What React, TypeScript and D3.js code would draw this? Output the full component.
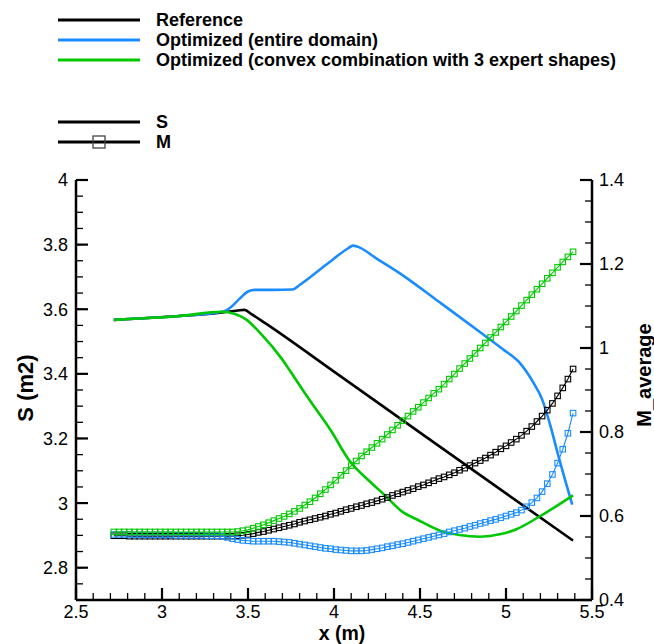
import React from "react";
import * as d3 from "d3";

// ---------- data ----------
const seriesNames = ["Reference", "Optimized (entire domain)", "Optimized (convex combination with 3 expert shapes)"];
const seriesColors = ["#000000", "#1a8cff", "#00c800"];

const xTicks = [2.5, 3, 3.5, 4, 4.5, 5, 5.5];
const sTicks = [2.8, 3, 3.2, 3.4, 3.6, 3.8, 4];
const mTicks = [0.4, 0.6, 0.8, 1, 1.2, 1.4];

// S (m2) — lines without markers
const sRefX = [2.72, 3.1, 3.35, 3.44, 3.48, 3.52, 3.6, 4.0, 4.5, 5.0, 5.39];
const sRefY = [3.567, 3.579, 3.59, 3.596, 3.598, 3.585, 3.557, 3.407, 3.218, 3.03, 2.884];

const sEntireX = [2.72, 3.1, 3.35, 3.4, 3.45, 3.5, 3.54, 3.65, 3.76, 3.8, 3.95, 4.08, 4.11, 4.14, 4.25, 4.4, 4.6, 4.87, 4.98, 5.08, 5.16, 5.21, 5.26, 5.3, 5.34, 5.385];
const sEntireY = [3.567, 3.579, 3.592, 3.606, 3.632, 3.655, 3.66, 3.66, 3.661, 3.675, 3.736, 3.788, 3.797, 3.793, 3.756, 3.705, 3.627, 3.521, 3.477, 3.434, 3.372, 3.321, 3.236, 3.155, 3.078, 2.995];

const sConvexX = [2.72, 3.1, 3.35, 3.42, 3.49, 3.57, 3.7, 3.74, 3.85, 3.98, 4.09, 4.21, 4.29, 4.4, 4.48, 4.62, 4.73, 4.85, 4.97, 5.06, 5.2, 5.39];
const sConvexY = [3.567, 3.579, 3.592, 3.586, 3.568, 3.527, 3.444, 3.413, 3.325, 3.226, 3.131, 3.066, 3.027, 2.972, 2.95, 2.914, 2.901, 2.896, 2.904, 2.919, 2.96, 3.024];

// M_average — lines with square markers on the station grid
const xGrid = [
  2.72, 2.75, 2.78, 2.81, 2.84, 2.87, 2.9, 2.93, 2.96, 2.99,
  3.02, 3.05, 3.08, 3.11, 3.14, 3.17, 3.2, 3.23, 3.26, 3.29,
  3.32, 3.35, 3.38, 3.41, 3.44, 3.47, 3.5, 3.53, 3.56, 3.59,
  3.62, 3.65, 3.68, 3.71, 3.74, 3.77, 3.8, 3.83, 3.86, 3.89,
  3.92, 3.95, 3.98, 4.01, 4.04, 4.07, 4.1, 4.13, 4.16, 4.19,
  4.22, 4.25, 4.28, 4.31, 4.34, 4.37, 4.4, 4.43, 4.46, 4.49,
  4.52, 4.55, 4.58, 4.61, 4.64, 4.67, 4.7, 4.73, 4.76, 4.79,
  4.82, 4.85, 4.88, 4.91, 4.94, 4.97, 5.0, 5.03, 5.06, 5.09,
  5.12, 5.15, 5.18, 5.21, 5.24, 5.27, 5.3, 5.33, 5.36, 5.39,
];
const mRef = [
  0.553, 0.553, 0.553, 0.552, 0.552, 0.552, 0.552, 0.552, 0.552, 0.552,
  0.552, 0.552, 0.552, 0.552, 0.552, 0.552, 0.552, 0.552, 0.552, 0.552,
  0.552, 0.552, 0.552, 0.552, 0.553, 0.554, 0.556, 0.558, 0.561, 0.563,
  0.566, 0.569, 0.572, 0.575, 0.578, 0.581, 0.585, 0.588, 0.591, 0.594,
  0.597, 0.6, 0.604, 0.607, 0.611, 0.615, 0.618, 0.622, 0.625, 0.629,
  0.632, 0.636, 0.64, 0.644, 0.649, 0.653, 0.657, 0.661, 0.665, 0.67,
  0.674, 0.679, 0.684, 0.689, 0.693, 0.698, 0.703, 0.709, 0.714, 0.72,
  0.726, 0.732, 0.738, 0.745, 0.752, 0.76, 0.767, 0.775, 0.783, 0.792,
  0.802, 0.813, 0.825, 0.838, 0.852, 0.868, 0.886, 0.905, 0.926, 0.95,
];
const mEntire = [
  0.556, 0.556, 0.556, 0.556, 0.555, 0.555, 0.555, 0.555, 0.555, 0.555,
  0.555, 0.555, 0.554, 0.554, 0.554, 0.554, 0.554, 0.554, 0.553, 0.553,
  0.553, 0.552, 0.549, 0.546, 0.544, 0.542, 0.541, 0.54, 0.54, 0.54,
  0.54, 0.54, 0.539, 0.538, 0.537, 0.535, 0.533, 0.531, 0.529, 0.527,
  0.525, 0.523, 0.522, 0.52, 0.519, 0.518, 0.517, 0.517, 0.517, 0.518,
  0.52, 0.522, 0.524, 0.527, 0.529, 0.532, 0.534, 0.537, 0.54, 0.543,
  0.546, 0.549, 0.552, 0.555, 0.558, 0.562, 0.565, 0.568, 0.571, 0.575,
  0.578, 0.582, 0.585, 0.589, 0.592, 0.596, 0.6, 0.604, 0.608, 0.614,
  0.622, 0.632, 0.643, 0.658, 0.677, 0.699, 0.726, 0.759, 0.797, 0.845,
];
const mConvex = [
  0.562, 0.562, 0.562, 0.562, 0.562, 0.562, 0.562, 0.562, 0.562, 0.562,
  0.562, 0.562, 0.562, 0.562, 0.562, 0.562, 0.562, 0.562, 0.562, 0.562,
  0.562, 0.562, 0.562, 0.562, 0.563, 0.565, 0.567, 0.571, 0.575, 0.579,
  0.584, 0.589, 0.594, 0.599, 0.605, 0.611, 0.618, 0.626, 0.634, 0.643,
  0.653, 0.663, 0.674, 0.685, 0.697, 0.708, 0.72, 0.731, 0.743, 0.753,
  0.763, 0.773, 0.783, 0.794, 0.805, 0.816, 0.827, 0.838, 0.849, 0.859,
  0.87, 0.881, 0.892, 0.902, 0.914, 0.926, 0.938, 0.951, 0.963, 0.975,
  0.987, 1.0, 1.012, 1.025, 1.037, 1.05, 1.062, 1.075, 1.088, 1.101,
  1.114, 1.127, 1.14, 1.153, 1.166, 1.179, 1.192, 1.205, 1.217, 1.229,
];

// ---------- chart ----------
const W = 654;
const H = 644;
const FONT = "'Liberation Sans', Arial, Helvetica, sans-serif";

const x = d3.scaleLinear().domain([2.5, 5.5]).range([76, 592]);
const yS = d3.scaleLinear().domain([2.7, 4]).range([600, 180]);
const yM = d3.scaleLinear().domain([0.4, 1.4]).range([600, 180]);

const fmt = (v: number) => String(+v.toFixed(2));

export default function App() {
  const sLine = (xs: number[], ys: number[]) =>
    d3.line<number>().x((_, i) => x(xs[i])).y((d) => yS(d)).curve(d3.curveMonotoneX)(ys) || "";
  const mLine = (ys: number[]) =>
    d3.line<number>().x((_, i) => x(xGrid[i])).y((d) => yM(d))(ys) || "";

  const sSeries = [
    { xs: sRefX, ys: sRefY, c: seriesColors[0] },
    { xs: sEntireX, ys: sEntireY, c: seriesColors[1] },
    { xs: sConvexX, ys: sConvexY, c: seriesColors[2] },
  ];
  const mSeries = [
    { ys: mRef, c: seriesColors[0] },
    { ys: mEntire, c: seriesColors[1] },
    { ys: mConvex, c: seriesColors[2] },
  ];

  const xMinor = d3.range(2.5, 5.5001, 0.1);
  const sMinor = d3.range(2.7, 4.0001, 0.05);
  const mMinor = d3.range(0.4, 1.4001, 0.05);
  const ms = 5.5;

  return (
    <svg width={W} height={H} style={{ position: "absolute", left: 0, top: 0, background: "#fff" }} fontFamily={FONT}>
      {/* legend */}
      {seriesNames.map((n, i) => (
        <g key={n}>
          <line x1={58} x2={140} y1={20 + i * 20} y2={20 + i * 20} stroke={seriesColors[i]} strokeWidth={3} />
          <text x={156} y={20 + i * 20} dy="0.36em" fontSize={18} fontWeight="bold">{n}</text>
        </g>
      ))}
      <line x1={58} x2={140} y1={122} y2={122} stroke="#000" strokeWidth={3} />
      <text x={156} y={122} dy="0.36em" fontSize={18} fontWeight="bold">S</text>
      <line x1={58} x2={140} y1={142} y2={142} stroke="#000" strokeWidth={3} />
      <rect x={93} y={136} width={12} height={12} fill="none" stroke="#444" strokeWidth={1.3} />
      <text x={156} y={142} dy="0.36em" fontSize={18} fontWeight="bold">M</text>

      {/* S lines */}
      {sSeries.map((s, i) => (
        <path key={"s" + i} d={sLine(s.xs, s.ys)} fill="none" stroke={s.c} strokeWidth={2.6} strokeLinejoin="round" />
      ))}
      {/* M lines with markers */}
      {mSeries.map((s, i) => (
        <g key={"m" + i}>
          <path d={mLine(s.ys)} fill="none" stroke={s.c} strokeWidth={1.1} />
          {s.ys.map((v, j) => (
            <rect key={j} x={x(xGrid[j]) - ms / 2} y={yM(v) - ms / 2} width={ms} height={ms}
              fill="none" stroke={s.c} strokeWidth={1.1} />
          ))}
        </g>
      ))}

      {/* axes */}
      <line x1={76} x2={76} y1={180} y2={600} stroke="#000" strokeWidth={2.5} />
      <line x1={592} x2={592} y1={180} y2={600} stroke="#000" strokeWidth={2.5} />
      <line x1={76} x2={592} y1={600} y2={600} stroke="#000" strokeWidth={2.5} />

      {xMinor.map((v, i) => (
        <line key={"xm" + i} x1={x(v)} x2={x(v)} y1={600} y2={593} stroke="#000" strokeWidth={1.3} />
      ))}
      {xTicks.map((v) => (
        <g key={"xt" + v}>
          <line x1={x(v)} x2={x(v)} y1={600} y2={588} stroke="#000" strokeWidth={2.2} />
          <text x={x(v)} y={618} textAnchor="middle" fontSize={18}>{fmt(v)}</text>
        </g>
      ))}
      {sMinor.map((v, i) => (
        <line key={"sm" + i} x1={76} x2={83} y1={yS(v)} y2={yS(v)} stroke="#000" strokeWidth={1.3} />
      ))}
      {sTicks.map((v) => (
        <g key={"st" + v}>
          <line x1={76} x2={88} y1={yS(v)} y2={yS(v)} stroke="#000" strokeWidth={2.2} />
          <text x={68} y={yS(v)} dy="0.36em" textAnchor="end" fontSize={18}>{fmt(v)}</text>
        </g>
      ))}
      {mMinor.map((v, i) => (
        <line key={"mm" + i} x1={592} x2={585} y1={yM(v)} y2={yM(v)} stroke="#000" strokeWidth={1.3} />
      ))}
      {mTicks.map((v) => (
        <g key={"mt" + v}>
          <line x1={592} x2={580} y1={yM(v)} y2={yM(v)} stroke="#000" strokeWidth={2.2} />
          <text x={599} y={yM(v)} dy="0.36em" textAnchor="start" fontSize={18}>{fmt(v)}</text>
        </g>
      ))}

      {/* axis titles */}
      <text x={342} y={639.5} textAnchor="middle" fontSize={19.5} fontWeight="bold">x (m)</text>
      <text transform="translate(33,388) rotate(-90)" textAnchor="middle" fontSize={22} fontWeight="bold">S (m2)</text>
      <text transform="translate(651,375) rotate(-90)" textAnchor="middle" fontSize={20} fontWeight="bold">M_average</text>
    </svg>
  );
}
